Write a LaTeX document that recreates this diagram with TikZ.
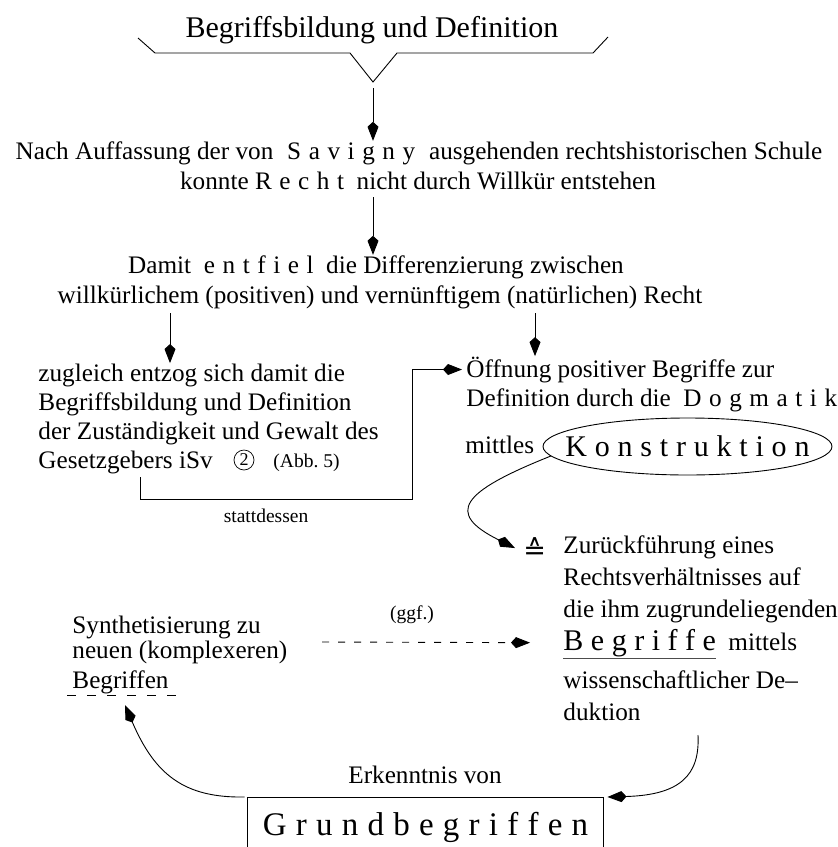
\documentclass[tikz,border=0pt]{standalone}
\usepackage{fontspec}
\setmainfont{Liberation Serif}
\newfontfamily\djv{DejaVu Sans}
\usetikzlibrary{arrows.meta,shapes.geometric}
\ExplSyntaxOn
\NewDocumentCommand\lsp{O{0.25em}m}{\tl_map_inline:nn{#2}{##1\hspace{#1}}\unskip}
\ExplSyntaxOff
\newcommand\fbody{\fontsize{25.2}{29}\selectfont}
\newcommand\fbig{\fontsize{30}{34}\selectfont}
\newcommand\fsmall{\fontsize{19.5}{22}\selectfont}
\begin{document}
\begin{tikzpicture}[x=1pt,y=-1pt,line width=0.9pt,
  >={Kite[length=19pt,width=11pt,inset=5pt]},
  txt/.style={inner sep=0pt,font=\fbody,anchor=base west},
  ctxt/.style={inner sep=0pt,font=\fbody,anchor=base}]
\useasboundingbox (0,0) rectangle (838,847);
\clip (0,0) rectangle (838,847);

% title and brace
\node[ctxt,font=\fbig] (title) at (372,37) {Begriffsbildung und Definition};
\coordinate (bv) at (373,82);
\draw (138,38) -- (155,53) -- (350,53) -- (bv) -- (397,53) -- (593,53) -- (608,37);

% first statement
\node[ctxt] (l1) at (419,159) {Nach Auffassung der von\hspace{0.55em}\lsp[0.3em]{Savigny}\hspace{0.55em}ausgehenden rechtshistorischen Schule};
\node[ctxt] (l2) at (418,189) {konnte \lsp[0.3em]{Recht}\hspace{0.5em}nicht durch Willkür entstehen};
\coordinate (a1s) at (373,88);
\draw[->] (a1s) -- (a1s |- l1.north);

% second statement
\node[ctxt] (l3) at (376,273) {Damit\hspace{0.5em}\lsp[0.3em]{entfiel}\hspace{0.5em}die Differenzierung zwischen};
\node[ctxt] (l4) at (380,303) {willkürlichem (positiven) und vernünftigem (natürlichen) Recht};
\coordinate (a2s) at (373,197);
\draw[->] (a2s) -- (a2s |- l3.north);

% left block
\node[txt] (z1) at (38,381) {zugleich entzog sich damit die};
\node[txt] (z2) at (38,410) {Begriffsbildung und Definition};
\node[txt] (z3) at (38,439) {der Zuständigkeit und Gewalt des};
\node[txt] (z4) at (38,468) {Gesetzgebers iSv};
\node[circle,draw,line width=0.7pt,minimum size=20pt,inner sep=0pt,font=\fontsize{18}{18}\selectfont] (c2) at (244,460) {2};
\node[txt,font=\fsmall] (abb) at (273,467) {(Abb.~5)};
\coordinate (a3s) at (170,313);
\draw[->] (a3s) -- (a3s |- z1.north);

% right block
\node[txt] (o1) at (466,377) {Öffnung positiver Begriffe zur};
\node[txt] (o2) at (466,406) {Definition durch die\hspace{0.5em}\lsp[0.3em]{Dogmatik}};
\node[txt] (o3) at (465,453) {mittles};
\node[ellipse,draw,minimum width=289pt,minimum height=57pt,inner sep=0pt] (kon) at (687.5,446.5) {};
\node[inner sep=0pt,font=\fbig] (kont) at (kon.center) {\lsp[0.26em]{Konstruktion}};
\coordinate (a4s) at (535,313);
\draw[->] (a4s) -- (a4s |- o1.north);

% bracket connector
\coordinate (bs) at (140,477);
\draw[->] (bs) |- (412,499) |- ([xshift=-4pt]o1.west);
\node[ctxt,font=\fsmall] (st) at (266,522) {stattdessen};

% reduction block
\node[txt] (eq) at (523,553) {\raisebox{-6pt}{\djv\fontsize{27}{27}\selectfont ≙}};
\node[txt] (r1) at (563,553) {Zurückführung eines};
\node[txt] (r2) at (563,585) {Rechtsverhältnisses auf};
\node[txt] (r3) at (563,617) {die ihm zugrundeliegenden};
\node[txt,font=\fbig] (bg) at (563,650) {\lsp[0.25em]{Begriffe}};
\node[txt] (mit) at (728,650) {mittels};
\draw[line width=1.6pt,black!70] ([yshift=-1.5pt]bg.south west) -- ([yshift=-1.5pt]bg.south east);
\node[txt] (r5) at (563,688) {wissenschaftlicher De–};
\node[txt] (r6) at (563,720) {duktion};
\draw[->] (kon.184) .. controls +(-90,36) and +(-70,-35) .. ([xshift=-8pt]eq.west);

% synthesis block
\node[txt] (s1) at (72,633) {Synthetisierung zu};
\node[txt] (s2) at (72,658) {neuen (komplexeren)};
\node[txt] (s3) at (72,688) {Begriffen};
\draw[dash pattern=on 9pt off 11pt] (67,695) -- (177,695);
\node[ctxt,font=\fsmall] (ggf) at (412,619) {(ggf.)};
\coordinate (d1) at (322,642);
\draw[->,dash pattern=on 7pt off 9pt] (d1) -- ([xshift=-33pt]bg.west);

% bottom
\node[ctxt] (erk) at (425,783) {Erkenntnis von};
\node[inner sep=0pt,minimum width=355pt,minimum height=59pt,anchor=north,font=\fontsize{33}{36}\selectfont] (gb) at (425.5,797) {\lsp[0.28em]{Grundbegriffen}};
\draw (gb.south west) -- (gb.north west) -- (gb.north east) -- (gb.south east);
\coordinate (rc) at (698,735);
\draw[->] (rc) .. controls +(2,40) and +(73,-2) .. ([xshift=4pt]gb.north east);
\coordinate (tipL) at (125,705);
\draw[->] ([xshift=-3pt]gb.north west) .. controls +(-60,1) and +(30,70) .. (tipL);
\end{tikzpicture}
\end{document}
